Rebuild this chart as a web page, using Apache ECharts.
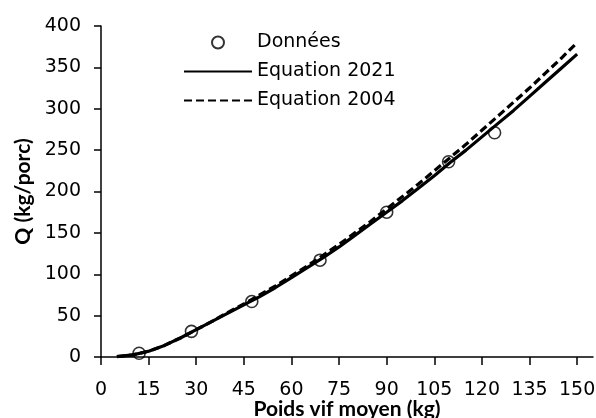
<!DOCTYPE html>
<html>
<head>
<meta charset="utf-8">
<script src="https://cdn.jsdelivr.net/npm/echarts@6/dist/echarts.min.js"></script>
<style>
html,body{margin:0;padding:0;background:#fff;}
#c{width:596px;height:418px;}
</style>
</head>
<body>
<div id="c"></div>
<script>
// Measured observations (Données)
const dataWeight = [12, 28.5, 47.5, 69, 90, 109.5, 124];
const dataQ = [4.5, 31, 67, 117, 175, 236, 271];
// Curve readings
const curveWeight = [5,10,15,20,25,30,35,40,45,50,55,60,65,70,75,80,85,90,95,100,105,110,115,120,125,130,135,140,145,150];
const eq2021 = [0.5,2.5,7,14,23,33,43,53,63,73,84,96,108,120,133,147,161,175,189,204,219,235,250,266,282,298,315,332,349,366];
const eq2004 = [0.5,2.5,7,14,23,33,43,54,64,75,86,98,110,123,136,150,164,179,194,209,225,241,257,274,291,308,325,343,361,380];
const xTicks = [0,15,30,45,60,75,90,105,120,135,150];
const seriesNames = ['Données', 'Equation 2021', 'Equation 2004'];

const font = 'DejaVu Sans';
const nameFont = 'Lato';
const chart = echarts.init(document.getElementById('c'), null, {renderer: 'canvas'});
const zip = (a, b) => a.map((v, i) => [v, b[i]]);

chart.setOption({
  animation: false,
  backgroundColor: '#fff',
  grid: {left: 101, right: 3, top: 26, bottom: 61, containLabel: false, outerBoundsMode: 'none'},
  legend: {
    orient: 'vertical',
    left: 183,
    top: 32,
    padding: 0,
    itemWidth: 68,
    itemHeight: 12,
    itemGap: 8,
    textStyle: {fontFamily: font, fontSize: 19, color: '#000', lineHeight: 21},
    data: [
      {name: seriesNames[0], icon: 'circle'},
      {name: seriesNames[1], itemStyle: {opacity: 0}},
      {name: seriesNames[2], itemStyle: {opacity: 0}}
    ]
  },
  xAxis: {
    type: 'value', min: 0, max: 155, interval: 15,
    name: 'Poids vif moyen (kg)', nameLocation: 'middle', nameGap: 42, nameMoveOverlap: false,
    nameTextStyle: {fontFamily: nameFont, fontSize: 21, fontWeight: 'bold', color: '#000'},
    axisLine: {show: true, lineStyle: {color: '#000', width: 1.5}},
    axisTick: {show: true, length: 8, inside: false, customValues: xTicks, lineStyle: {color: '#000', width: 1.5}},
    axisLabel: {customValues: xTicks, fontFamily: font, fontSize: 19, color: '#000', margin: 23.5},
    splitLine: {show: false}
  },
  yAxis: {
    type: 'value', min: 0, max: 400, interval: 50,
    name: 'Q (kg/porc)', nameLocation: 'middle', nameGap: 67, nameRotate: 90, nameMoveOverlap: false,
    nameTextStyle: {fontFamily: nameFont, fontSize: 21, fontWeight: 'bold', color: '#000'},
    axisLine: {show: true, lineStyle: {color: '#000', width: 1.5}},
    axisTick: {show: true, length: 7, lineStyle: {color: '#000', width: 1.5}},
    axisLabel: {fontFamily: font, fontSize: 19, color: '#000', margin: 20},
    splitLine: {show: false}
  },
  series: [
    {
      name: seriesNames[0], type: 'scatter', z: 5,
      symbol: 'circle', symbolSize: 12,
      itemStyle: {color: 'rgba(0,0,0,0)', borderColor: '#000', borderWidth: 1.6},
      data: zip(dataWeight, dataQ)
    },
    {
      name: seriesNames[1], type: 'line', showSymbol: false, symbol: 'none', smooth: false,
      lineStyle: {color: '#000', width: 3.2, type: 'solid'},
      itemStyle: {color: '#000'},
      data: zip(curveWeight, eq2021)
    },
    {
      name: seriesNames[2], type: 'line', showSymbol: false, symbol: 'none', smooth: false,
      lineStyle: {color: '#000', width: 3.2, type: [8, 4]},
      itemStyle: {color: '#000'},
      data: zip(curveWeight, eq2004)
    }
  ]
});
</script>
</body>
</html>
